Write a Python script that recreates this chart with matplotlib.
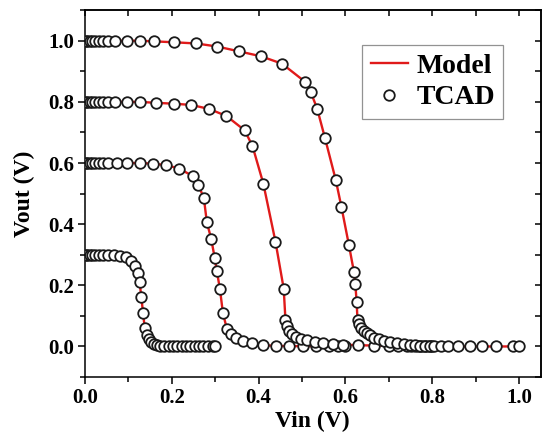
import matplotlib
matplotlib.use("Agg")
import matplotlib.pyplot as plt
from matplotlib.ticker import MultipleLocator

plt.rcParams['font.family'] = ['Liberation Serif', 'DejaVu Serif']
plt.rcParams['font.weight'] = 'bold'

# ---- data (Vin, Vout) ----
v03_x = [0.002, 0.006, 0.011, 0.017, 0.024, 0.032, 0.042, 0.054, 0.068, 0.082,
         0.094, 0.106, 0.115, 0.122, 0.126, 0.130, 0.134, 0.138, 0.142, 0.147,
         0.153, 0.159, 0.166, 0.174, 0.183, 0.193, 0.203, 0.213, 0.223, 0.233,
         0.243, 0.253, 0.263, 0.273, 0.284, 0.295, 0.300]
v03_y = [0.300, 0.300, 0.300, 0.300, 0.300, 0.300, 0.300, 0.300, 0.299, 0.297,
         0.292, 0.280, 0.264, 0.240, 0.210, 0.163, 0.109, 0.060, 0.036, 0.025,
         0.015, 0.009, 0.005, 0.003, 0.002, 0.001, 0.001, 0.001, 0.000, 0.000,
         0.000, 0.000, 0.000, 0.000, 0.000, 0.000, 0.000]

v06_x = [0.002, 0.006, 0.011, 0.017, 0.024, 0.032, 0.042, 0.054, 0.073, 0.098,
         0.126, 0.157, 0.188, 0.217, 0.249, 0.261, 0.274, 0.281, 0.291, 0.299,
         0.304, 0.311, 0.318, 0.327, 0.336, 0.348, 0.364, 0.386, 0.411, 0.441,
         0.471, 0.502, 0.533, 0.562, 0.584, 0.600]
v06_y = [0.600, 0.600, 0.600, 0.600, 0.600, 0.600, 0.600, 0.600, 0.600, 0.600,
         0.600, 0.598, 0.593, 0.582, 0.557, 0.529, 0.486, 0.406, 0.352, 0.290,
         0.246, 0.189, 0.109, 0.058, 0.040, 0.027, 0.017, 0.010, 0.004, 0.002,
         0.001, 0.001, 0.001, 0.000, 0.000, 0.000]

v08_x = [0.002, 0.006, 0.011, 0.017, 0.024, 0.032, 0.042, 0.054, 0.069, 0.096,
         0.126, 0.163, 0.205, 0.245, 0.286, 0.326, 0.368, 0.386, 0.411, 0.439,
         0.458, 0.462, 0.465, 0.470, 0.477, 0.486, 0.497, 0.512, 0.529, 0.549,
         0.572, 0.595, 0.630, 0.665, 0.700, 0.722, 0.742, 0.752, 0.760, 0.767,
         0.774, 0.781, 0.788, 0.795, 0.800]
v08_y = [0.800, 0.800, 0.800, 0.800, 0.800, 0.800, 0.800, 0.800, 0.800, 0.800,
         0.800, 0.797, 0.794, 0.790, 0.777, 0.754, 0.707, 0.656, 0.533, 0.343,
         0.189, 0.087, 0.066, 0.051, 0.040, 0.031, 0.025, 0.020, 0.016, 0.012,
         0.009, 0.006, 0.004, 0.003, 0.002, 0.002, 0.001, 0.001, 0.001, 0.001,
         0.000, 0.000, 0.000, 0.000, 0.000]

v10_x = [0.002, 0.006, 0.011, 0.017, 0.024, 0.032, 0.042, 0.054, 0.069, 0.096,
         0.126, 0.159, 0.205, 0.257, 0.305, 0.356, 0.406, 0.454, 0.507, 0.520,
         0.535, 0.553, 0.578, 0.591, 0.608, 0.620, 0.623, 0.626, 0.628, 0.631,
         0.636, 0.642, 0.649, 0.657, 0.667, 0.678, 0.690, 0.703, 0.720, 0.735,
         0.748, 0.760, 0.772, 0.784, 0.795, 0.805, 0.821, 0.837, 0.860, 0.886,
         0.914, 0.947, 0.985, 1.000]
v10_y = [1.000, 1.000, 1.000, 1.000, 1.000, 1.000, 1.000, 1.000, 1.000, 1.000,
         1.000, 0.998, 0.995, 0.991, 0.981, 0.965, 0.949, 0.925, 0.866, 0.833,
         0.778, 0.682, 0.544, 0.456, 0.333, 0.242, 0.203, 0.145, 0.085, 0.072,
         0.061, 0.052, 0.044, 0.037, 0.029, 0.023, 0.019, 0.016, 0.012, 0.008,
         0.005, 0.004, 0.003, 0.002, 0.002, 0.001, 0.001, 0.001, 0.000, 0.000,
         0.000, 0.000, 0.000, 0.000]

curves = [(v03_x, v03_y), (v06_x, v06_y), (v08_x, v08_y), (v10_x, v10_y)]

x_ticks = [0.0, 0.2, 0.4, 0.6, 0.8, 1.0]
y_ticks = [0.0, 0.2, 0.4, 0.6, 0.8, 1.0]

fig = plt.figure(figsize=(5.44, 4.42), dpi=100)
ax = fig.add_axes([0.156, 0.147, 0.838, 0.830])

for i, (xs, ys) in enumerate(curves):
    ax.plot(xs, ys, color='#e01a1a', lw=1.7, zorder=2,
            label='Model' if i == 0 else None)
for i, (xs, ys) in enumerate(curves):
    ax.plot(xs, ys, ls='none', marker='o', ms=7.6, mfc='white', mec='#1a1a1a',
            mew=1.3, zorder=3, label='TCAD' if i == 0 else None)

ax.set_xlim(0, 1.05)
ax.set_ylim(-0.1, 1.1)
ax.set_xticks(x_ticks)
ax.set_yticks(y_ticks)
ax.set_xticklabels([f"{v:.1f}" for v in x_ticks])
ax.set_yticklabels([f"{v:.1f}" for v in y_ticks])
ax.xaxis.set_minor_locator(MultipleLocator(0.1))
ax.yaxis.set_minor_locator(MultipleLocator(0.1))
ax.tick_params(which='major', direction='out', length=5, width=1.1,
               labelsize=15, pad=3)
ax.tick_params(which='minor', direction='out', length=3.5, width=1.1)
for lab in ax.get_xticklabels() + ax.get_yticklabels():
    lab.set_fontweight('bold')

sx = ax.secondary_xaxis('top')
sx.set_xticks(x_ticks)
sx.xaxis.set_minor_locator(MultipleLocator(0.1))
sx.tick_params(which='both', direction='in', length=4, width=1.1, labeltop=False)
sy = ax.secondary_yaxis('right')
sy.set_yticks(y_ticks)
sy.yaxis.set_minor_locator(MultipleLocator(0.1))
sy.tick_params(which='both', direction='in', length=4, width=1.1, labelright=False)

for s in list(ax.spines.values()) + list(sx.spines.values()) + list(sy.spines.values()):
    s.set_linewidth(1.1)

ax.set_xlabel('Vin (V)', fontsize=17, fontweight='bold', labelpad=2)
ax.set_ylabel('Vout (V)', fontsize=17, fontweight='bold', labelpad=9)

leg = ax.legend(loc='upper right', bbox_to_anchor=(0.918, 0.905),
                prop={'size': 20, 'weight': 'bold'}, frameon=True,
                fancybox=False, handlelength=1.35, handletextpad=0.3,
                borderpad=0.3, labelspacing=0.22, borderaxespad=0)
leg.get_frame().set_edgecolor('#777777')
leg.get_frame().set_linewidth(0.9)

fig.savefig('out.png', dpi=100)
